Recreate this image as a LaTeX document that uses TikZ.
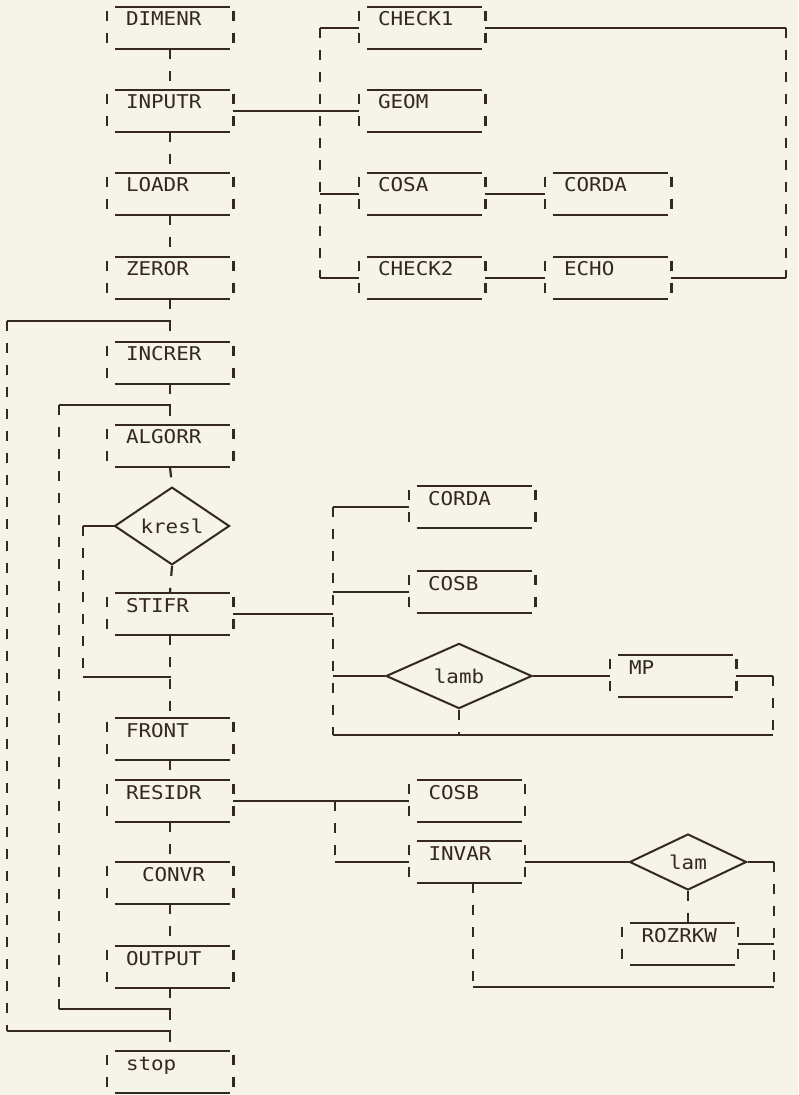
\documentclass[tikz,border=0pt]{standalone}
\usepackage{fontspec}
\setmonofont[FakeStretch=1.1]{DejaVu Sans Mono}
\usetikzlibrary{shapes.geometric}
\definecolor{ink}{RGB}{52,40,32}
\definecolor{paper}{RGB}{246,243,232}
\tikzset{
	prog/.style  ={rectangle, inner xsep=9.5pt, inner ysep=0pt, text width=44pt, text height=9.5pt, text depth=11.5pt, align=left, font=\ttfamily\fontsize{9.5}{10}\selectfont},
	narrow/.style={text width=38.5pt},
	decide/.style={diamond, draw, line width=1pt, inner sep=0pt, font=\ttfamily\fontsize{9.5}{10}\selectfont},
	% connector styles
	hline/.style ={line width=1pt},
	vline/.style ={line width=1.1pt, dash pattern=on 5pt off 6pt},
}

\begin{document}
\begin{tikzpicture}[x=0.5pt, y=-0.5pt, color=ink]
	\useasboundingbox (0,0) rectangle (798,1095);
	\fill[paper] (0,0) rectangle (798,1095);
	% main column
	\node[prog] (dimenr) at (170,28) {DIMENR};
	\node[prog] (inputr) at (170,111) {INPUTR};
	\node[prog] (loadr) at (170,194) {LOADR};
	\node[prog] (zeror) at (170,278) {ZEROR};
	\node[prog] (increr) at (170,363) {INCRER};
	\node[prog] (algorr) at (170,446) {ALGORR};
	\node[decide, minimum width=57.5pt, minimum height=31pt] (kresl) at (172,526) {kresl};
	\node[prog] (stifr) at (170,614) {STIFR};
	\node[prog] (front) at (170,739) {FRONT};
	\node[prog] (residr) at (170,801) {RESIDR};
	\node[prog] (convr) at (170,883) {\hspace*{8pt}CONVR};
	\node[prog] (output) at (170,967) {OUTPUT};
	\node[prog] (stop) at (170,1072) {stop};
	% input branch
	\node[prog] (check1) at (422,28) {CHECK1};
	\node[prog] (geom) at (422,111) {GEOM};
	\node[prog] (cosa) at (422,194) {COSA};
	\node[prog] (check2) at (422,278) {CHECK2};
	\node[prog] (corda1) at (608,194) {CORDA};
	\node[prog] (echo) at (608,278) {ECHO};
	% stiffness branch
	\node[prog] (corda2) at (472,507) {CORDA};
	\node[prog] (cosb1) at (472,592) {COSB};
	\node[decide, minimum width=73pt, minimum height=26.5pt] (lamb) at (459,676) {lamb};
	\node[prog] (mp) at (673,676) {MP};
	% residual branch
	\node[prog, narrow] (cosb2) at (467,801) {COSB};
	\node[prog, narrow] (invar) at (467,862) {INVAR};
	\node[decide, minimum width=58.5pt, minimum height=28pt] (lam) at (688,862) {lam};
	\node[prog, narrow] (rozrkw) at (680,944) {ROZRKW};
	% box frames
	\foreach \n in {dimenr, inputr, loadr, zeror, increr, algorr, stifr, front, residr, convr, output, stop, check1, geom, cosa, check2, corda1, echo, corda2, cosb1, mp, cosb2, invar, rozrkw} {
		\draw[hline] ([xshift=4pt]\n.north west) -- ([xshift=-1.5pt]\n.north east)
		             ([xshift=4pt]\n.south west) -- ([xshift=-1.5pt]\n.south east);
		\draw[vline] ([yshift=-2pt]\n.north west) -- (\n.south west)
		             ([yshift=-2pt]\n.north east) -- (\n.south east);
	}
	% main flow
	\foreach \a/\b in {dimenr/inputr, inputr/loadr, loadr/zeror, zeror/increr, increr/algorr, algorr/kresl, kresl/stifr, stifr/front, front/residr, residr/convr, convr/output, output/stop}
		\draw[vline] (\a.south) -- (\b.north);
	% outer and inner loops
	\coordinate (o1) at (171,321);
	\coordinate (o2) at (7,321);
	\coordinate (o3) at (7,1031);
	\coordinate (o4) at (171,1031);
	\draw[hline] (o1) -- (o2);
	\draw[vline] (o2) -- (o3);
	\draw[hline] (o3) -- (o4);
	\coordinate (i1) at (171,405);
	\coordinate (i2) at (59,405);
	\coordinate (i3) at (59,1009);
	\coordinate (i4) at (171,1009);
	\draw[hline] (i1) -- (i2);
	\draw[vline] (i2) -- (i3);
	\draw[hline] (i3) -- (i4);
	% kresl bypass
	\coordinate (k1) at (83,526);
	\coordinate (k2) at (83,677);
	\coordinate (k3) at (171,677);
	\draw[hline] (kresl.west) -- (k1);
	\draw[vline] (k1) -- (k2);
	\draw[hline] (k2) -- (k3);
	% input calls
	\coordinate (ib) at (320,0);
	\draw[hline] (inputr.east) -- (inputr.east -| ib);
	\draw[vline] (check1.west -| ib) -- (check2.west -| ib);
	\foreach \n in {check1, geom, cosa, check2}
		\draw[hline] (\n.west -| ib) -- (\n.west);
	\draw[hline] (cosa.east) -- (corda1.west);
	\draw[hline] (check2.east) -- (echo.west);
	\coordinate (rb) at (786,0);
	\draw[hline] (check1.east) -- (check1.east -| rb);
	\draw[vline] (check1.east -| rb) -- (echo.east -| rb);
	\draw[hline] (echo.east) -- (echo.east -| rb);
	% stiffness calls
	\coordinate (sb) at (333,0);
	\coordinate (s4) at (333,735);
	\coordinate (s5) at (773,735);
	\draw[hline] (stifr.east) -- (stifr.east -| sb);
	\draw[vline] (corda2.west -| sb) -- (s4);
	\foreach \n in {corda2, cosb1, lamb}
		\draw[hline] (\n.west -| sb) -- (\n.west);
	\draw[hline] (lamb.east) -- (mp.west);
	\draw[hline] (mp.east) -- (mp.east -| s5);
	\draw[vline] (mp.east -| s5) -- (s5);
	\draw[vline] (lamb.south) -- (lamb.south |- s4);
	\draw[hline] (s4) -- (s5);
	% residual calls
	\coordinate (rx) at (335,0);
	\coordinate (l1) at (473,987);
	\coordinate (l2) at (774,987);
	\draw[hline] (residr.east) -- (cosb2.west);
	\draw[vline] (residr.east -| rx) -- (invar.west -| rx);
	\draw[hline] (invar.west -| rx) -- (invar.west);
	\draw[hline] (invar.east) -- (lam.west);
	\draw[hline] (lam.east) -- (lam.east -| l2);
	\draw[vline] (lam.east -| l2) -- (l2);
	\draw[vline] (lam.south) -- (lam.south |- rozrkw.north);
	\draw[hline] (rozrkw.east) -- (rozrkw.east -| l2);
	\draw[vline] (invar.south -| l1) -- (l1);
	\draw[hline] (l1) -- (l2);
\end{tikzpicture}
\end{document}
